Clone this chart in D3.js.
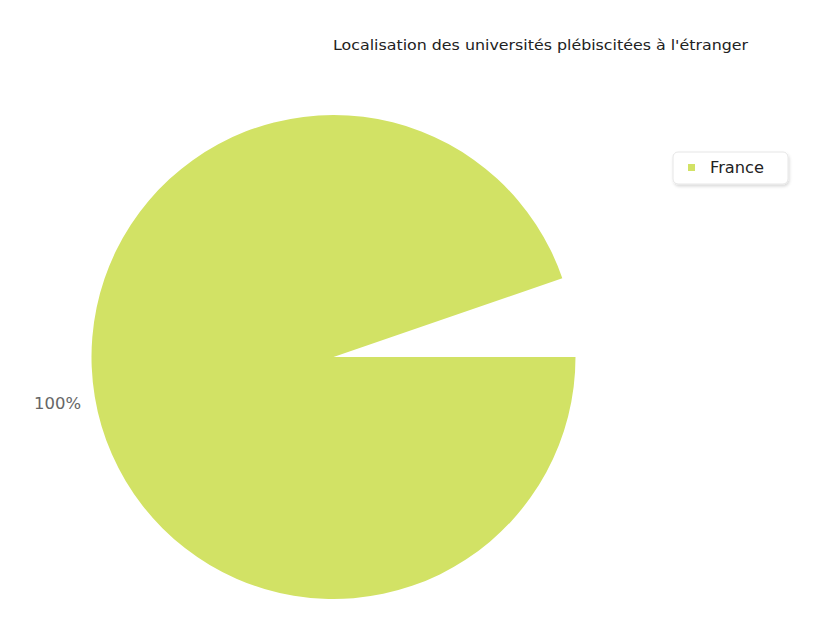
<!DOCTYPE html>
<html><head><meta charset="utf-8">
<script src="https://cdn.jsdelivr.net/npm/d3@7"></script>
<style>body{margin:0;background:#fff}svg{display:block}</style>
</head><body>
<script>
const title = "Localisation des universités plébiscitées à l'étranger";
const categories = ["France"];
const values = [100];
const colors = ["#d2e265"];

const W = 840, H = 636;
const cx = 333.5, cy = 357, R = 242;
const gap = 19 * Math.PI / 180;

const svg = d3.select("body").append("svg").attr("width", W).attr("height", H);

svg.append("text").attr("x", 333).attr("y", 50)
  .attr("font-family", "DejaVu Sans, sans-serif").attr("font-size", 14).attr("fill", "#222")
  .attr("textLength", 415).attr("lengthAdjust", "spacingAndGlyphs")
  .text(title);

const total = d3.sum(values);
const pie = d3.pie().sort(null).startAngle(Math.PI / 2).endAngle(Math.PI / 2 + 2 * Math.PI - gap);
const arcs = pie(values);
const arc = d3.arc().innerRadius(0).outerRadius(R);
const labelArc = d3.arc().innerRadius(R + 14).outerRadius(R + 14);

const g = svg.append("g").attr("transform", `translate(${cx},${cy})`);
g.selectAll("path").data(arcs).join("path")
  .attr("d", arc).attr("fill", (d, i) => colors[i]);

g.selectAll("text").data(arcs).join("text")
  .attr("transform", d => { const c = labelArc.centroid(d); return `translate(${c[0] - 47},${c[1] + 4})`; })
  .attr("dy", "0.35em")
  .attr("font-family", "DejaVu Sans, sans-serif").attr("font-size", 15).attr("fill", "#666")
  .attr("textLength", 47).attr("lengthAdjust", "spacingAndGlyphs")
  .text((d, i) => Math.round(values[i] / total * 100) + "%");

// legend
const defs = svg.append("defs");
const f = defs.append("filter").attr("id", "sh").attr("x", "-20%").attr("y", "-30%").attr("width", "140%").attr("height", "170%");
f.append("feDropShadow").attr("dx", 1).attr("dy", 2).attr("stdDeviation", 1.5).attr("flood-color", "#000").attr("flood-opacity", 0.15);

const lg = svg.append("g").attr("transform", "translate(673,152)");
lg.append("rect").attr("width", 115).attr("height", 32).attr("rx", 5)
  .attr("fill", "#fff").attr("stroke", "#e6e6e6").attr("filter", "url(#sh)");
const items = lg.selectAll("g.item").data(categories).join("g").attr("class", "item")
  .attr("transform", (d, i) => `translate(0,${16 + i * 20})`);
items.append("rect").attr("x", 15).attr("y", -4).attr("width", 7).attr("height", 7)
  .attr("fill", (d, i) => colors[i]);
items.append("text").attr("x", 37).attr("dy", "0.35em")
  .attr("font-family", "DejaVu Sans, sans-serif").attr("font-size", 15).attr("fill", "#222")
  .attr("textLength", 54).attr("lengthAdjust", "spacingAndGlyphs")
  .text(d => d);
</script>
</body></html>
